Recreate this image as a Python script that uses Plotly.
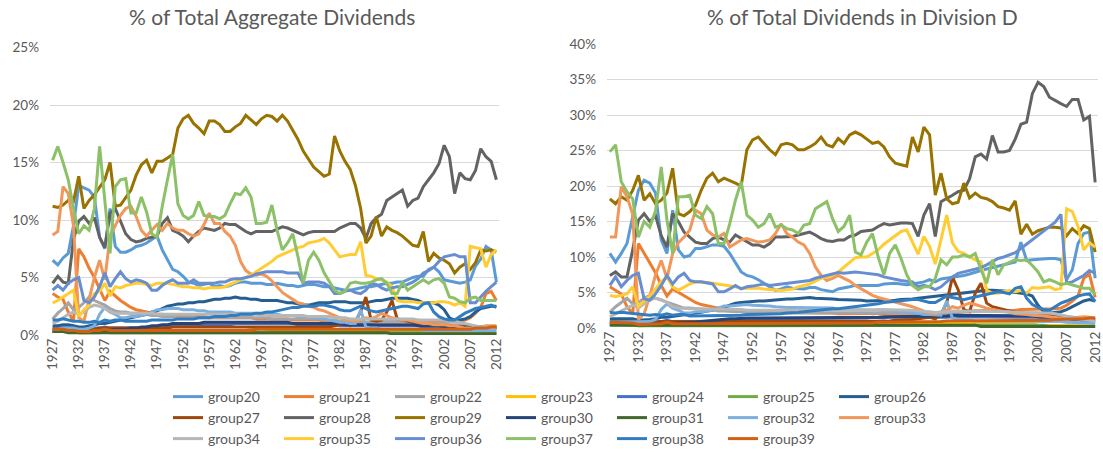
import plotly.graph_objects as go

years = list(range(1927, 2013))
tick_years = [1927, 1932, 1937, 1942, 1947, 1952, 1957, 1962, 1967, 1972,
              1977, 1982, 1987, 1992, 1997, 2002, 2007, 2012]
group_names = ["group20", "group21", "group22", "group23", "group24", "group25", "group26",
               "group27", "group28", "group29", "group30", "group31", "group32", "group33",
               "group34", "group35", "group36", "group37", "group38", "group39"]
colors = ["#5B9BD5", "#ED7D31", "#A5A5A5", "#FFC000", "#4472C4", "#70AD47", "#255E91",
          "#9E480E", "#636363", "#997300", "#264478", "#43682B", "#7CAFDD", "#F1975A",
          "#B7B7B7", "#FFCD33", "#698ED0", "#8CC168", "#327DC2", "#D26012"]

# ---------- % of Total Aggregate Dividends (left panel), 1927..2012 ----------
agg_g20 = [6.5, 6.1, 6.7,
           7.1, 9.5, 13.0, 12.8, 12.6, 12.0, 8.5, 7.5, 11.0, 7.7,
           7.2, 7.2, 7.4, 7.7, 7.8, 8.0, 8.3, 8.6, 7.4, 6.5,
           5.7, 5.5, 5.1, 4.6, 4.5, 4.3, 4.4, 4.5, 4.2, 4.3,
           4.2, 4.3, 4.5, 4.6, 4.6, 4.5, 4.5, 4.5, 4.4, 4.4,
           4.5, 4.4, 4.3, 4.3, 4.2, 4.3, 4.4, 4.4, 4.3, 4.2,
           4.2, 4.1, 4.0, 3.9, 3.9, 4.0, 4.1, 4.2, 4.2, 4.3,
           4.4, 4.5, 4.5, 4.6, 4.6, 4.8, 5.0, 5.1, 5.1, 5.7,
           5.9, 5.5, 4.8, 4.7, 4.6, 4.5, 4.6, 4.8, 6.0, 6.6,
           7.7, 7.4, 4.6]
agg_g21 = [3.6, 3.3, 3.1,
           2.0, 1.2, 7.5, 6.8, 5.8, 5.0, 4.0, 3.0, 3.8, 3.4,
           3.0, 2.7, 2.4, 2.2, 2.1, 2.0, 1.9, 1.8, 1.8, 1.7,
           1.7, 1.7, 1.6, 1.6, 1.6, 1.6, 1.6, 1.5, 1.5, 1.5,
           1.5, 1.5, 1.5, 1.5, 1.5, 1.5, 1.4, 1.4, 1.4, 1.4,
           1.4, 1.4, 1.4, 1.3, 1.3, 1.3, 1.3, 1.3, 1.3, 1.2,
           1.2, 1.2, 1.2, 1.1, 1.1, 1.1, 1.1, 1.1, 1.1, 1.2,
           1.2, 1.2, 1.2, 1.2, 1.2, 1.2, 1.2, 1.2, 1.2, 1.2,
           1.2, 1.2, 1.2, 1.2, 1.2, 1.2, 1.3, 1.5, 1.9, 2.4,
           3.6, 3.8, 3.0]
agg_g22 = [1.4, 1.9, 2.3,
           2.8, 2.2, 2.4, 2.8, 3.3, 3.0, 2.8, 2.6, 2.3, 2.1,
           2.0, 2.0, 1.9, 1.9, 1.8, 1.8, 1.7, 1.7, 1.6, 1.6,
           1.6, 1.5, 1.5, 1.5, 1.5, 1.5, 1.5, 1.5, 1.5, 1.5,
           1.5, 1.5, 1.5, 1.5, 1.5, 1.5, 1.5, 1.5, 1.5, 1.4,
           1.4, 1.4, 1.4, 1.4, 1.4, 1.4, 1.4, 1.4, 1.4, 1.3,
           1.3, 1.3, 1.2, 1.1, 1.0, 1.0, 1.0, 1.1, 1.1, 1.2,
           1.2, 1.2, 1.2, 1.2, 1.2, 1.2, 1.2, 1.1, 1.1, 1.0,
           1.0, 1.0, 1.0, 0.9, 0.9, 0.9, 0.8, 0.7, 0.6, 0.6,
           0.5, 0.5, 0.5]
agg_g23 = [0.3, 0.3, 0.3,
           0.3, 0.3, 0.2, 0.2, 0.3, 0.3, 0.3, 0.4, 0.3, 0.3,
           0.3, 0.3, 0.3, 0.3, 0.3, 0.3, 0.3, 0.3, 0.3, 0.3,
           0.3, 0.3, 0.3, 0.3, 0.3, 0.3, 0.3, 0.3, 0.3, 0.3,
           0.3, 0.3, 0.4, 0.4, 0.4, 0.5, 0.5, 0.6, 0.5, 0.4,
           0.4, 0.4, 0.4, 0.4, 0.4, 0.4, 0.4, 0.4, 0.4, 0.4,
           0.4, 0.4, 0.3, 0.3, 0.3, 0.3, 0.3, 0.3, 0.3, 0.3,
           0.3, 0.3, 0.3, 0.3, 0.3, 0.3, 0.3, 0.3, 0.3, 0.3,
           0.3, 0.3, 0.2, 0.2, 0.2, 0.2, 0.2, 0.2, 0.2, 0.2,
           0.2, 0.2, 0.2]
agg_g24 = [0.6, 0.6, 0.7,
           0.7, 0.6, 0.5, 0.5, 0.5, 0.6, 0.6, 0.7, 0.6, 0.6,
           0.6, 0.6, 0.6, 0.6, 0.6, 0.7, 0.7, 0.7, 0.8, 0.8,
           0.8, 0.8, 0.8, 0.8, 0.9, 0.9, 0.9, 0.9, 0.9, 0.9,
           0.9, 0.9, 1.0, 1.0, 1.0, 1.0, 1.0, 1.0, 1.0, 1.0,
           1.0, 1.0, 1.0, 1.0, 0.9, 0.9, 0.9, 0.9, 0.9, 0.9,
           0.9, 0.9, 0.8, 0.8, 0.8, 0.8, 0.8, 0.8, 0.8, 0.8,
           0.8, 0.8, 0.8, 0.8, 0.8, 0.8, 0.8, 0.8, 0.7, 0.7,
           0.7, 0.7, 0.7, 0.6, 0.6, 0.6, 0.6, 0.6, 0.6, 0.6,
           0.6, 0.6, 0.6]
agg_g25 = [0.3, 0.3, 0.3,
           0.3, 0.3, 0.2, 0.2, 0.2, 0.2, 0.2, 0.3, 0.2, 0.2,
           0.2, 0.2, 0.2, 0.2, 0.2, 0.2, 0.2, 0.2, 0.2, 0.2,
           0.2, 0.2, 0.2, 0.2, 0.2, 0.2, 0.2, 0.2, 0.2, 0.2,
           0.2, 0.2, 0.2, 0.2, 0.2, 0.2, 0.2, 0.2, 0.2, 0.2,
           0.2, 0.2, 0.2, 0.2, 0.2, 0.2, 0.2, 0.2, 0.2, 0.2,
           0.2, 0.2, 0.2, 0.2, 0.2, 0.2, 0.2, 0.2, 0.2, 0.2,
           0.2, 0.2, 0.2, 0.2, 0.2, 0.2, 0.2, 0.2, 0.2, 0.2,
           0.2, 0.2, 0.2, 0.2, 0.1, 0.1, 0.1, 0.1, 0.1, 0.1,
           0.1, 0.1, 0.1]
agg_g26 = [0.8, 0.8, 0.9,
           0.9, 0.8, 0.7, 0.7, 0.8, 0.9, 1.0, 1.0, 1.1, 1.2,
           1.3, 1.4, 1.5, 1.6, 1.7, 1.8, 2.0, 2.1, 2.3, 2.5,
           2.6, 2.7, 2.7, 2.8, 2.8, 2.9, 2.9, 3.0, 3.1, 3.1,
           3.2, 3.2, 3.3, 3.2, 3.2, 3.1, 3.1, 3.0, 3.0, 3.0,
           3.0, 2.9, 2.8, 2.8, 2.7, 2.6, 2.6, 2.7, 2.8, 2.8,
           2.8, 2.9, 2.9, 2.9, 2.8, 2.8, 2.8, 2.8, 2.9, 3.0,
           3.0, 3.1, 3.2, 3.2, 3.2, 3.2, 3.1, 3.0, 2.8, 2.8,
           2.8, 2.6, 2.2, 1.5, 1.3, 1.3, 1.4, 1.6, 2.0, 2.3,
           2.4, 2.5, 2.5]
agg_g27 = [0.5, 0.5, 0.5,
           0.5, 0.5, 0.5, 0.5, 0.5, 0.5, 0.6, 0.6, 0.6, 0.6,
           0.6, 0.6, 0.6, 0.6, 0.6, 0.6, 0.6, 0.6, 0.6, 0.6,
           0.7, 0.7, 0.7, 0.7, 0.7, 0.7, 0.7, 0.7, 0.7, 0.7,
           0.7, 0.7, 0.7, 0.7, 0.7, 0.7, 0.7, 0.7, 0.7, 0.7,
           0.7, 0.7, 0.7, 0.7, 0.7, 0.7, 0.7, 0.7, 0.7, 0.7,
           0.7, 0.8, 0.9, 1.0, 0.8, 1.2, 2.0, 3.3, 1.3, 1.2,
           1.3, 2.0, 3.0, 1.4, 1.3, 1.2, 1.1, 1.0, 1.0, 0.9,
           0.9, 0.8, 0.8, 0.8, 0.7, 0.7, 0.7, 0.7, 0.7, 0.7,
           0.7, 0.7, 0.7]
agg_g28 = [4.5, 5.1, 4.6,
           4.5, 8.3, 9.9, 10.3, 9.7, 10.2, 8.5, 7.6, 10.6, 11.0,
           9.9, 8.8, 8.3, 8.1, 8.2, 8.4, 8.5, 8.6, 9.7, 10.2,
           9.1, 8.9, 8.6, 8.1, 8.6, 9.0, 9.3, 9.2, 9.1, 9.3,
           9.7, 9.6, 9.6, 9.3, 9.0, 8.8, 9.0, 9.0, 9.0, 9.0,
           9.2, 9.4, 9.3, 9.1, 8.9, 8.7, 8.9, 9.0, 9.0, 9.0,
           9.0, 9.0, 9.3, 9.5, 9.7, 9.7, 9.3, 8.4, 9.7, 10.2,
           10.5, 11.7, 12.0, 12.3, 12.6, 11.2, 11.7, 11.9, 12.9, 13.5,
           14.1, 14.9, 16.5, 15.5, 12.3, 14.1, 13.6, 13.5, 14.3, 16.2,
           15.5, 15.1, 13.5]
agg_g29 = [11.2, 11.1, 11.3,
           11.7, 11.6, 13.8, 11.0, 11.7, 12.2, 12.8, 13.5, 15.0, 11.2,
           11.3, 11.9, 12.6, 13.9, 14.8, 15.2, 14.1, 15.1, 15.1, 15.4,
           15.7, 18.0, 18.8, 19.1, 18.4, 18.0, 17.5, 18.6, 18.6, 18.3,
           17.7, 17.7, 18.1, 18.4, 19.1, 18.7, 18.3, 18.8, 19.1, 19.0,
           18.6, 19.1, 18.6, 17.8, 17.0, 16.0, 15.3, 14.6, 14.2, 13.8,
           14.0, 17.3, 16.0, 15.1, 14.4, 13.0, 11.0, 8.0, 8.6, 10.3,
           8.6, 9.4, 9.1, 8.9, 8.6, 8.2, 7.8, 7.7, 9.0, 6.4,
           7.1, 6.7, 6.5, 6.2, 5.4, 5.9, 6.2, 5.7, 6.3, 7.4,
           7.3, 7.4, 7.2]
agg_g30 = [0.3, 0.3, 0.3,
           0.3, 0.3, 0.3, 0.3, 0.3, 0.4, 0.4, 0.4, 0.4, 0.5,
           0.5, 0.5, 0.6, 0.6, 0.7, 0.7, 0.8, 0.8, 0.9, 0.9,
           1.0, 1.0, 1.0, 1.0, 1.0, 1.0, 1.1, 1.1, 1.1, 1.1,
           1.1, 1.1, 1.1, 1.1, 1.1, 1.1, 1.1, 1.1, 1.1, 1.1,
           1.1, 1.1, 1.1, 1.0, 1.0, 1.0, 1.0, 1.0, 1.0, 1.0,
           1.0, 1.0, 1.0, 0.9, 0.9, 0.9, 0.9, 0.9, 0.9, 0.9,
           0.9, 0.9, 0.9, 0.9, 0.9, 0.9, 0.9, 0.8, 0.8, 0.8,
           0.8, 0.8, 0.7, 0.7, 0.7, 0.7, 0.7, 0.7, 0.7, 0.7,
           0.7, 0.7, 0.7]
agg_g31 = [0.3, 0.3, 0.3,
           0.2, 0.2, 0.2, 0.2, 0.2, 0.2, 0.2, 0.2, 0.2, 0.2,
           0.2, 0.2, 0.2, 0.2, 0.2, 0.2, 0.2, 0.2, 0.2, 0.2,
           0.2, 0.2, 0.2, 0.2, 0.2, 0.2, 0.2, 0.2, 0.2, 0.2,
           0.2, 0.2, 0.2, 0.2, 0.2, 0.2, 0.2, 0.2, 0.2, 0.2,
           0.2, 0.2, 0.2, 0.2, 0.2, 0.2, 0.2, 0.2, 0.2, 0.2,
           0.2, 0.2, 0.2, 0.2, 0.2, 0.2, 0.2, 0.2, 0.2, 0.2,
           0.2, 0.2, 0.1, 0.1, 0.1, 0.1, 0.1, 0.1, 0.1, 0.1,
           0.1, 0.1, 0.1, 0.1, 0.1, 0.1, 0.1, 0.1, 0.1, 0.1,
           0.1, 0.1, 0.1]
agg_g32 = [0.5, 0.5, 0.6,
           0.6, 0.6, 0.5, 0.5, 0.6, 0.8, 1.8, 2.4, 2.0, 1.8,
           1.5, 1.5, 1.6, 1.6, 1.7, 1.8, 2.0, 2.2, 2.2, 2.3,
           2.3, 2.3, 2.2, 2.2, 2.2, 2.1, 2.1, 2.0, 2.0, 2.0,
           2.0, 2.0, 1.9, 1.9, 1.9, 1.9, 1.9, 1.8, 1.8, 1.8,
           1.8, 1.7, 1.7, 1.7, 1.6, 1.6, 1.6, 1.5, 1.5, 1.4,
           1.3, 1.2, 1.1, 1.1, 1.0, 1.0, 2.2, 0.7, 0.6, 0.6,
           0.5, 0.5, 0.5, 0.5, 0.5, 0.5, 0.5, 0.5, 0.4, 0.4,
           0.4, 0.4, 0.4, 0.4, 0.4, 0.4, 0.4, 0.4, 0.4, 0.4,
           0.4, 0.4, 0.4]
agg_g33 = [8.7, 9.0, 12.9,
           12.3, 9.5, 1.5, 1.2, 3.0, 5.0, 6.5, 4.8, 8.6, 9.5,
           10.4, 11.0, 11.2, 10.3, 9.1, 8.6, 9.1, 9.6, 9.1, 9.7,
           9.3, 9.1, 9.1, 8.8, 8.6, 8.8, 9.6, 10.6, 9.7, 9.7,
           9.0, 8.6, 7.8, 6.4, 5.6, 5.3, 5.2, 5.3, 5.1, 4.7,
           4.2, 3.7, 3.4, 3.1, 2.8, 2.7, 2.5, 2.4, 2.2, 2.1,
           1.9, 1.7, 1.5, 1.3, 1.3, 1.2, 1.3, 1.5, 1.4, 1.6,
           1.9, 1.7, 1.5, 1.4, 1.3, 1.3, 1.2, 1.1, 1.0, 1.0,
           0.9, 0.9, 0.9, 0.8, 0.8, 0.7, 0.6, 0.6, 0.7, 0.7,
           0.8, 0.8, 0.8]
agg_g34 = [1.0, 1.2, 1.5,
           1.8, 2.0, 1.8, 2.0, 2.4, 2.6, 2.5, 2.3, 2.0, 1.9,
           1.9, 1.9, 1.9, 1.9, 1.9, 1.9, 1.9, 1.8, 1.8, 1.8,
           1.8, 1.8, 1.8, 1.8, 1.8, 1.8, 1.8, 1.8, 1.8, 1.8,
           1.8, 1.8, 1.8, 1.8, 1.8, 1.8, 1.8, 1.7, 1.7, 1.7,
           1.7, 1.7, 1.7, 1.7, 1.7, 1.7, 1.6, 1.6, 1.6, 1.6,
           1.6, 1.5, 1.5, 1.5, 1.4, 1.4, 1.4, 1.4, 1.4, 1.4,
           1.4, 1.4, 1.4, 1.4, 1.4, 1.4, 1.4, 1.3, 1.3, 1.3,
           1.3, 1.3, 1.3, 1.2, 1.2, 1.1, 1.0, 0.9, 0.8, 0.7,
           0.7, 0.6, 0.6]
agg_g35 = [2.8, 3.0, 3.3,
           3.6, 3.9, 1.6, 2.2, 2.6, 3.6, 3.8, 4.5, 3.4, 4.2,
           4.1, 4.3, 4.4, 4.5, 4.5, 4.4, 4.3, 4.5, 4.5, 4.5,
           4.4, 4.3, 4.2, 4.2, 4.1, 4.1, 4.0, 4.1, 4.1, 4.1,
           4.2, 4.4, 4.6, 4.8, 5.0, 5.2, 5.5, 5.8, 6.1, 6.4,
           6.8, 7.0, 7.2, 7.4, 7.6, 7.7, 8.0, 8.1, 8.2, 8.4,
           8.0, 7.4, 6.8, 6.9, 7.0, 7.0, 8.1, 5.2, 5.1, 4.9,
           4.8, 4.6, 4.2, 3.0, 2.9, 2.9, 2.9, 2.8, 2.8, 2.8,
           2.8, 2.9, 2.9, 2.8, 2.6, 2.8, 2.5, 7.7, 7.6, 7.5,
           5.9, 7.0, 7.4]
agg_g36 = [3.9, 4.3, 3.9,
           4.5, 4.8, 5.0, 3.0, 2.8, 3.3, 4.2, 5.4, 4.2, 4.9,
           5.5, 4.9, 4.6, 4.8, 4.7, 4.5, 3.9, 3.9, 4.3, 4.6,
           4.8, 4.5, 4.5, 4.5, 4.8, 4.5, 4.5, 4.5, 4.5, 4.6,
           4.6, 4.8, 4.9, 4.9, 5.0, 5.1, 5.3, 5.4, 5.5, 5.5,
           5.5, 5.5, 5.4, 5.4, 5.4, 4.5, 4.6, 4.6, 4.6, 4.5,
           4.2, 3.6, 3.6, 3.8, 3.9, 3.7, 3.6, 3.9, 4.5, 4.4,
           4.1, 3.9, 4.1, 4.2, 4.2, 4.4, 4.6, 4.9, 5.4, 5.6,
           5.9, 6.4, 6.8, 6.9, 7.0, 6.8, 6.8, 2.8, 2.8, 3.3,
           3.8, 4.2, 4.6]
agg_g37 = [15.2, 16.4, 15.0,
           13.5, 11.0, 8.8, 9.5, 9.1, 11.0, 16.4, 11.7, 7.1, 12.9,
           13.5, 13.6, 10.6, 10.6, 12.0, 10.7, 8.8, 8.5, 11.2, 13.5,
           15.7, 11.4, 10.4, 10.1, 10.4, 11.6, 10.4, 10.3, 10.3, 10.1,
           10.4, 11.4, 12.3, 12.2, 12.8, 12.0, 9.7, 9.7, 9.8, 11.3,
           9.1, 7.4, 8.0, 8.8, 6.8, 4.5, 6.5, 7.2, 6.5, 5.4,
           4.6, 3.9, 3.6, 3.8, 4.5, 4.6, 4.5, 4.5, 4.6, 4.8,
           4.9, 4.5, 3.6, 3.6, 4.6, 3.9, 4.2, 4.5, 4.8, 4.5,
           4.8, 4.9, 4.5, 3.3, 3.2, 2.9, 2.8, 3.2, 3.3, 3.0,
           3.0, 3.0, 3.0]
agg_g38 = [1.3, 1.3, 1.4,
           1.3, 1.2, 1.2, 1.1, 1.1, 1.2, 1.1, 1.3, 1.2, 1.3,
           1.3, 1.2, 1.2, 1.2, 1.2, 1.2, 1.3, 1.3, 1.3, 1.3,
           1.3, 1.4, 1.4, 1.4, 1.4, 1.5, 1.5, 1.5, 1.6, 1.6,
           1.6, 1.7, 1.7, 1.8, 1.8, 1.8, 1.9, 1.9, 2.0, 2.0,
           2.1, 2.2, 2.3, 2.4, 2.4, 2.5, 2.5, 2.5, 2.6, 2.6,
           2.5, 2.4, 2.2, 2.1, 2.1, 2.3, 2.5, 2.3, 2.1, 2.0,
           2.1, 2.2, 2.3, 2.4, 2.5, 2.5, 2.4, 2.3, 2.7, 2.8,
           2.0, 1.6, 1.4, 1.3, 1.3, 1.6, 1.9, 2.1, 2.3, 2.4,
           2.5, 2.6, 2.4]
agg_g39 = [0.5, 0.5, 0.5,
           0.4, 0.4, 0.3, 0.3, 0.3, 0.4, 0.4, 0.5, 0.4, 0.4,
           0.4, 0.4, 0.4, 0.4, 0.4, 0.4, 0.4, 0.4, 0.4, 0.4,
           0.4, 0.4, 0.4, 0.4, 0.4, 0.4, 0.4, 0.4, 0.4, 0.4,
           0.4, 0.4, 0.4, 0.4, 0.4, 0.4, 0.5, 0.5, 0.5, 0.5,
           0.5, 0.5, 0.5, 0.5, 0.5, 0.5, 0.5, 0.5, 0.5, 0.5,
           0.5, 0.5, 0.5, 0.5, 0.5, 0.5, 0.5, 0.5, 0.5, 0.5,
           0.5, 0.5, 0.5, 0.5, 0.5, 0.5, 0.5, 0.5, 0.5, 0.5,
           0.5, 0.5, 0.5, 0.5, 0.5, 0.5, 0.5, 0.5, 0.6, 0.6,
           0.6, 0.7, 0.7]

# ---------- % of Total Dividends in Division D (right panel), 1927..2012 ----------
div_g20 = [10.5, 9.3, 10.5,
           11.9, 15.7, 19.4, 20.8, 20.4, 19.0, 12.4, 10.5, 16.6, 11.0,
           10.0, 10.2, 11.2, 11.2, 11.4, 11.7, 11.7, 11.5, 10.5, 9.1,
           7.9, 7.4, 7.2, 6.8, 6.3, 5.8, 5.3, 5.5, 5.8, 5.6,
           5.5, 5.5, 5.7, 5.7, 5.4, 5.3, 5.1, 5.5, 5.6, 5.8,
           6.0, 6.0, 6.1, 6.1, 6.0, 6.2, 6.3, 6.3, 6.2, 6.1,
           6.2, 6.3, 6.5, 6.8, 6.5, 6.9, 7.0, 7.1, 7.2, 7.4,
           7.6, 7.9, 8.1, 8.3, 8.5, 8.8, 9.0, 9.1, 9.3, 12.1,
           9.5, 9.6, 9.7, 9.7, 9.8, 9.8, 9.6, 6.8, 8.2, 11.9,
           13.3, 13.5, 7.0]
div_g21 = [5.8, 5.3, 4.8,
           3.0, 2.0, 11.9, 10.5, 9.0, 7.8, 6.0, 4.5, 5.5, 5.0,
           4.5, 4.0, 3.6, 3.3, 3.1, 2.9, 2.8, 2.7, 2.6, 2.5,
           2.5, 2.4, 2.4, 2.3, 2.3, 2.3, 2.2, 2.2, 2.2, 2.2,
           2.1, 2.1, 2.1, 2.1, 2.1, 2.1, 2.1, 2.0, 2.0, 2.0,
           2.0, 2.0, 2.0, 2.0, 2.0, 2.0, 2.0, 2.0, 2.0, 2.0,
           2.0, 2.0, 2.0, 2.0, 2.0, 2.0, 2.1, 2.2, 2.3, 2.4,
           2.4, 2.4, 2.4, 2.4, 2.4, 2.4, 2.4, 2.5, 2.5, 2.6,
           2.6, 2.6, 2.6, 2.6, 2.7, 2.7, 2.8, 3.2, 3.8, 4.5,
           7.0, 7.6, 4.3]
div_g22 = [2.2, 3.0, 3.6,
           4.2, 3.4, 3.6, 4.2, 4.6, 4.2, 3.9, 3.6, 3.3, 3.0,
           2.8, 2.8, 2.7, 2.7, 2.6, 2.6, 2.4, 2.4, 2.3, 2.3,
           2.3, 2.2, 2.2, 2.1, 2.1, 2.1, 2.1, 2.1, 2.1, 2.1,
           2.1, 2.1, 2.1, 2.1, 2.1, 2.1, 2.1, 2.1, 2.1, 2.0,
           2.0, 2.0, 2.0, 2.1, 2.1, 2.2, 2.2, 2.2, 2.2, 2.1,
           2.1, 2.0, 2.0, 1.9, 1.8, 1.8, 1.9, 2.1, 2.2, 2.3,
           2.4, 2.4, 2.4, 2.4, 2.4, 2.4, 2.4, 2.3, 2.2, 2.1,
           2.1, 2.1, 2.1, 2.0, 2.0, 2.0, 1.8, 1.6, 1.3, 1.2,
           1.0, 0.9, 0.8]
div_g23 = [0.5, 0.5, 0.5,
           0.5, 0.5, 0.3, 0.3, 0.5, 0.5, 0.5, 0.6, 0.5, 0.5,
           0.4, 0.4, 0.4, 0.4, 0.4, 0.4, 0.4, 0.4, 0.4, 0.4,
           0.4, 0.4, 0.4, 0.4, 0.4, 0.4, 0.4, 0.4, 0.4, 0.4,
           0.4, 0.4, 0.6, 0.6, 0.6, 0.7, 0.7, 0.9, 0.7, 0.6,
           0.6, 0.6, 0.6, 0.6, 0.6, 0.6, 0.6, 0.6, 0.6, 0.6,
           0.6, 0.6, 0.5, 0.5, 0.5, 0.5, 0.6, 0.6, 0.6, 0.6,
           0.6, 0.6, 0.6, 0.6, 0.6, 0.6, 0.6, 0.6, 0.6, 0.6,
           0.6, 0.6, 0.4, 0.4, 0.4, 0.4, 0.4, 0.4, 0.4, 0.4,
           0.4, 0.4, 0.3]
div_g24 = [1.0, 1.0, 1.1,
           1.1, 1.0, 0.8, 0.8, 0.8, 0.9, 0.9, 1.1, 0.9, 0.9,
           0.8, 0.8, 0.8, 0.8, 0.8, 1.0, 1.0, 1.0, 1.1, 1.1,
           1.1, 1.1, 1.1, 1.1, 1.3, 1.3, 1.3, 1.3, 1.3, 1.3,
           1.3, 1.3, 1.4, 1.4, 1.4, 1.4, 1.4, 1.4, 1.4, 1.4,
           1.4, 1.4, 1.4, 1.5, 1.4, 1.4, 1.5, 1.5, 1.5, 1.5,
           1.5, 1.5, 1.4, 1.4, 1.4, 1.5, 1.5, 1.6, 1.6, 1.6,
           1.6, 1.6, 1.6, 1.6, 1.6, 1.6, 1.6, 1.6, 1.5, 1.5,
           1.5, 1.5, 1.5, 1.4, 1.4, 1.4, 1.4, 1.3, 1.2, 1.2,
           1.1, 1.0, 0.9]
div_g25 = [0.5, 0.5, 0.5,
           0.4, 0.4, 0.3, 0.3, 0.3, 0.3, 0.3, 0.4, 0.3, 0.3,
           0.3, 0.3, 0.3, 0.3, 0.3, 0.3, 0.3, 0.3, 0.3, 0.3,
           0.3, 0.3, 0.3, 0.3, 0.3, 0.3, 0.3, 0.3, 0.3, 0.3,
           0.3, 0.3, 0.3, 0.3, 0.3, 0.3, 0.3, 0.3, 0.3, 0.3,
           0.3, 0.3, 0.3, 0.3, 0.3, 0.3, 0.3, 0.3, 0.3, 0.3,
           0.3, 0.3, 0.3, 0.3, 0.3, 0.3, 0.4, 0.4, 0.4, 0.4,
           0.4, 0.4, 0.4, 0.4, 0.4, 0.4, 0.4, 0.4, 0.4, 0.4,
           0.4, 0.4, 0.4, 0.4, 0.2, 0.2, 0.2, 0.2, 0.2, 0.2,
           0.2, 0.2, 0.2]
div_g26 = [1.3, 1.3, 1.4,
           1.4, 1.3, 1.1, 1.1, 1.2, 1.3, 1.5, 1.5, 1.6, 1.7,
           1.8, 2.0, 2.1, 2.2, 2.4, 2.5, 2.8, 2.9, 3.2, 3.5,
           3.6, 3.7, 3.7, 3.8, 3.8, 3.9, 3.9, 4.0, 4.1, 4.1,
           4.2, 4.2, 4.3, 4.2, 4.2, 4.1, 4.1, 4.0, 4.0, 4.0,
           4.0, 3.9, 3.8, 3.8, 3.8, 3.8, 3.8, 3.9, 4.0, 4.0,
           4.1, 4.2, 4.3, 4.4, 4.5, 4.6, 4.6, 4.7, 4.8, 5.0,
           5.0, 5.1, 5.2, 5.3, 5.3, 5.3, 5.2, 5.1, 5.0, 5.0,
           4.8, 4.5, 3.2, 2.3, 2.1, 2.2, 2.3, 2.6, 3.0, 3.5,
           3.8, 4.0, 3.8]
div_g27 = [0.8, 0.8, 0.8,
           0.8, 0.7, 0.7, 0.7, 0.8, 0.8, 0.9, 0.9, 0.9, 0.9,
           1.0, 1.0, 1.0, 1.0, 1.0, 1.0, 1.0, 1.0, 1.0, 1.0,
           1.0, 1.0, 1.0, 1.0, 1.0, 1.0, 1.0, 1.0, 1.0, 1.0,
           1.0, 1.0, 1.0, 1.0, 1.0, 1.0, 1.0, 1.0, 1.0, 1.0,
           1.0, 1.0, 1.0, 1.0, 1.0, 1.0, 1.0, 1.1, 1.1, 1.1,
           1.2, 1.3, 1.4, 1.5, 1.3, 2.0, 3.5, 7.2, 5.4, 2.6,
           2.3, 4.9, 6.3, 3.5, 3.0, 2.8, 2.5, 2.3, 2.2, 2.1,
           2.0, 1.9, 1.8, 1.7, 1.6, 1.5, 1.5, 1.4, 1.3, 1.3,
           1.3, 1.2, 1.2]
div_g28 = [7.4, 7.9, 7.2,
           7.2, 11.0, 15.2, 16.1, 15.0, 15.8, 13.0, 11.4, 16.1, 15.0,
           13.5, 12.8, 12.1, 11.9, 11.9, 12.6, 12.8, 12.4, 12.1, 13.1,
           12.6, 12.2, 11.7, 11.7, 11.4, 11.9, 12.8, 12.8, 12.8, 12.9,
           13.1, 13.3, 13.5, 13.1, 12.6, 12.3, 12.2, 12.4, 12.4, 12.9,
           13.1, 13.6, 13.7, 13.8, 14.3, 14.7, 14.5, 14.7, 14.8, 14.8,
           14.7, 12.9, 15.9, 17.5, 12.9, 17.8, 18.2, 18.7, 19.2, 19.4,
           21.0, 24.1, 24.5, 23.8, 27.1, 24.8, 24.8, 25.0, 26.6, 28.7,
           29.0, 33.0, 34.6, 34.0, 32.5, 32.0, 31.6, 31.2, 32.2, 32.2,
           29.3, 29.8, 20.5]
div_g29 = [18.2, 17.5, 18.5,
           18.0, 19.4, 21.5, 18.0, 18.9, 17.5, 18.0, 19.0, 22.5, 16.1,
           15.8, 16.4, 17.3, 19.4, 21.1, 21.8, 20.6, 21.1, 20.8, 20.4,
           20.0, 25.1, 26.5, 26.9, 26.0, 25.1, 24.4, 25.8, 26.0, 25.8,
           25.1, 25.1, 25.5, 26.0, 26.9, 25.8, 25.5, 26.7, 26.0, 27.2,
           27.6, 27.2, 26.6, 26.0, 26.2, 25.5, 24.1, 23.2, 23.0, 22.8,
           26.9, 24.8, 28.3, 27.2, 18.7, 21.8, 18.2, 17.5, 17.7, 20.4,
           18.3, 19.0, 18.4, 18.2, 17.8, 17.1, 16.9, 16.6, 17.9, 13.2,
           14.6, 13.2, 13.7, 14.0, 14.2, 14.2, 14.1, 13.0, 14.0, 13.3,
           14.4, 14.0, 10.7]
div_g30 = [0.5, 0.5, 0.5,
           0.5, 0.5, 0.5, 0.5, 0.5, 0.6, 0.6, 0.6, 0.6, 0.7,
           0.7, 0.7, 0.8, 0.9, 1.0, 1.0, 1.1, 1.2, 1.3, 1.3,
           1.4, 1.4, 1.4, 1.4, 1.4, 1.4, 1.5, 1.5, 1.5, 1.5,
           1.5, 1.5, 1.5, 1.5, 1.5, 1.5, 1.5, 1.5, 1.5, 1.5,
           1.5, 1.5, 1.5, 1.5, 1.5, 1.6, 1.6, 1.6, 1.6, 1.6,
           1.6, 1.6, 1.6, 1.6, 1.6, 1.7, 1.7, 1.8, 1.8, 1.8,
           1.8, 1.8, 1.8, 1.8, 1.8, 1.8, 1.8, 1.7, 1.7, 1.7,
           1.7, 1.7, 1.6, 1.6, 1.6, 1.6, 1.6, 1.6, 1.5, 1.4,
           1.4, 1.3, 1.2]
div_g31 = [0.4, 0.4, 0.4,
           0.3, 0.3, 0.3, 0.3, 0.3, 0.3, 0.3, 0.3, 0.3, 0.3,
           0.3, 0.3, 0.3, 0.3, 0.3, 0.3, 0.3, 0.3, 0.3, 0.3,
           0.3, 0.3, 0.3, 0.3, 0.3, 0.3, 0.3, 0.3, 0.3, 0.3,
           0.3, 0.3, 0.3, 0.3, 0.3, 0.3, 0.3, 0.3, 0.3, 0.3,
           0.3, 0.3, 0.3, 0.3, 0.3, 0.3, 0.3, 0.3, 0.3, 0.3,
           0.3, 0.3, 0.3, 0.3, 0.3, 0.3, 0.4, 0.4, 0.4, 0.4,
           0.4, 0.4, 0.2, 0.2, 0.2, 0.2, 0.2, 0.2, 0.2, 0.2,
           0.2, 0.2, 0.2, 0.2, 0.2, 0.2, 0.2, 0.2, 0.2, 0.2,
           0.2, 0.2, 0.2]
div_g32 = [0.8, 0.8, 0.9,
           0.9, 0.9, 0.8, 0.8, 0.9, 1.2, 2.6, 3.4, 2.8, 2.5,
           2.1, 2.1, 2.3, 2.3, 2.4, 2.5, 2.8, 3.1, 3.1, 3.2,
           3.3, 3.3, 3.2, 3.2, 3.2, 3.1, 3.0, 2.9, 2.9, 2.9,
           2.9, 2.9, 2.8, 2.8, 2.8, 2.8, 2.8, 2.6, 2.6, 2.6,
           2.6, 2.5, 2.5, 2.6, 2.6, 2.6, 2.5, 2.4, 2.4, 2.3,
           2.2, 2.0, 1.9, 1.9, 1.8, 1.8, 3.8, 1.4, 1.2, 1.2,
           1.1, 1.0, 1.0, 1.0, 1.0, 1.0, 1.0, 1.0, 0.9, 0.9,
           0.9, 0.9, 0.9, 0.9, 0.9, 0.9, 0.9, 0.8, 0.8, 0.8,
           0.7, 0.7, 0.6]
div_g33 = [12.8, 12.8, 19.9,
           18.5, 16.0, 1.2, 2.0, 4.5, 7.5, 9.5, 7.0, 10.5, 12.0,
           12.8, 13.8, 16.6, 16.1, 13.8, 13.1, 12.8, 13.3, 11.4, 11.9,
           12.4, 12.6, 12.4, 12.1, 12.2, 12.4, 13.3, 14.7, 13.3, 12.8,
           12.1, 11.7, 10.5, 8.6, 7.4, 6.7, 7.0, 7.4, 7.0, 6.6,
           6.0, 5.5, 5.0, 4.6, 4.3, 4.1, 3.8, 3.6, 3.4, 3.2,
           3.0, 2.7, 2.4, 2.1, 2.0, 2.2, 2.5, 3.0, 2.8, 3.2,
           3.5, 3.3, 3.0, 2.8, 2.6, 2.5, 2.3, 2.2, 2.0, 2.0,
           1.9, 1.8, 1.8, 1.7, 1.6, 1.5, 1.4, 1.3, 1.4, 1.5,
           1.6, 1.5, 1.4]
div_g34 = [1.6, 2.0, 2.4,
           2.8, 3.2, 2.8, 3.4, 4.0, 4.2, 4.0, 3.6, 3.0, 2.8,
           2.7, 2.7, 2.7, 2.7, 2.7, 2.7, 2.7, 2.6, 2.6, 2.6,
           2.6, 2.5, 2.5, 2.5, 2.5, 2.5, 2.5, 2.5, 2.5, 2.5,
           2.5, 2.5, 2.5, 2.5, 2.5, 2.5, 2.5, 2.4, 2.4, 2.4,
           2.4, 2.4, 2.4, 2.5, 2.6, 2.6, 2.5, 2.5, 2.5, 2.5,
           2.5, 2.4, 2.4, 2.3, 2.2, 2.2, 2.3, 2.4, 2.4, 2.4,
           2.4, 2.4, 2.4, 2.4, 2.4, 2.4, 2.3, 2.3, 2.2, 2.2,
           2.2, 2.2, 2.2, 2.1, 2.1, 2.0, 1.8, 1.6, 1.4, 1.3,
           1.2, 1.1, 1.0]
div_g35 = [4.6, 4.4, 4.6,
           4.8, 5.8, 3.0, 3.8, 4.5, 5.5, 6.5, 7.2, 5.8, 5.3,
           5.8, 6.2, 6.5, 6.5, 6.4, 6.3, 6.2, 6.1, 6.0, 5.8,
           5.6, 5.6, 5.7, 5.6, 5.5, 5.4, 5.3, 5.3, 5.4, 5.5,
           5.8, 6.0, 6.2, 6.6, 7.0, 7.2, 7.4, 7.9, 8.6, 9.2,
           9.9, 10.0, 10.0, 10.5, 11.0, 11.8, 12.4, 13.0, 13.6, 13.8,
           12.0, 10.4, 12.9, 11.5, 9.0, 12.5, 15.9, 12.0, 10.8, 10.5,
           10.0, 9.6, 9.3, 5.3, 4.9, 4.9, 5.1, 5.3, 5.1, 5.3,
           4.9, 5.7, 5.6, 5.7, 5.8, 5.4, 5.6, 16.8, 16.4, 14.3,
           11.0, 12.0, 11.4]
div_g36 = [6.0, 7.2, 5.8,
           6.7, 7.4, 7.7, 4.1, 3.9, 4.8, 6.0, 7.4, 6.2, 7.2,
           7.7, 6.7, 6.5, 6.5, 6.3, 6.2, 5.1, 5.1, 5.5, 6.0,
           5.5, 5.8, 5.9, 6.0, 6.2, 6.0, 6.1, 6.2, 6.2, 6.3,
           6.5, 6.6, 6.7, 7.0, 7.2, 7.4, 7.7, 7.8, 7.7, 7.8,
           7.9, 7.8, 7.7, 7.7, 7.5, 7.2, 7.0, 6.8, 6.7, 6.6,
           6.5, 5.8, 6.0, 5.8, 5.4, 5.8, 6.5, 7.2, 7.7, 7.9,
           8.1, 8.3, 8.5, 8.9, 9.4, 9.8, 10.0, 10.3, 10.6, 11.2,
           11.8, 12.4, 13.0, 13.6, 14.2, 14.9, 16.0, 6.3, 6.5, 7.0,
           7.4, 8.1, 7.7]
div_g37 = [24.8, 25.8, 20.6,
           19.2, 18.2, 12.8, 15.0, 14.2, 16.5, 22.7, 15.2, 10.5, 18.5,
           18.5, 18.7, 15.9, 15.4, 17.1, 16.1, 11.9, 11.9, 14.7, 18.0,
           20.6, 15.9, 15.2, 14.2, 14.7, 16.1, 14.2, 14.5, 14.0, 13.8,
           13.3, 14.5, 14.7, 16.8, 17.3, 17.8, 15.4, 13.6, 14.3, 15.9,
           10.7, 10.3, 12.1, 13.3, 10.0, 7.5, 10.5, 11.7, 9.8, 7.5,
           6.0, 5.4, 5.8, 5.8, 7.0, 9.6, 8.9, 10.0, 10.0, 10.3,
           10.0, 10.5, 8.2, 6.3, 9.6, 7.5, 8.9, 9.3, 9.6, 9.5,
           9.6, 8.8, 7.9, 6.5, 6.8, 6.5, 6.1, 6.3, 6.1, 5.8,
           5.6, 5.6, 4.7]
div_g38 = [2.2, 2.1, 2.2,
           2.1, 2.0, 1.9, 1.8, 1.8, 1.9, 1.8, 2.0, 1.8, 1.9,
           1.9, 1.7, 1.7, 1.7, 1.7, 1.7, 1.8, 1.8, 1.8, 1.8,
           1.8, 1.9, 1.9, 1.9, 1.9, 2.0, 2.0, 2.0, 2.1, 2.1,
           2.2, 2.3, 2.4, 2.5, 2.6, 2.6, 2.7, 2.7, 2.8, 2.8,
           2.9, 3.0, 3.2, 3.3, 3.4, 3.6, 3.7, 3.8, 3.9, 4.0,
           4.0, 4.0, 3.8, 3.6, 3.6, 4.0, 4.5, 4.3, 4.2, 4.0,
           4.2, 4.4, 4.6, 4.8, 5.0, 5.1, 5.0, 4.8, 5.6, 5.8,
           4.2, 3.3, 2.9, 2.6, 2.5, 3.0, 3.5, 3.8, 4.2, 4.5,
           4.7, 4.8, 3.7]
div_g39 = [0.8, 0.8, 0.8,
           0.7, 0.7, 0.5, 0.5, 0.5, 0.6, 0.6, 0.8, 0.6, 0.6,
           0.6, 0.6, 0.6, 0.6, 0.6, 0.6, 0.6, 0.6, 0.6, 0.6,
           0.6, 0.6, 0.6, 0.6, 0.6, 0.6, 0.6, 0.6, 0.6, 0.6,
           0.6, 0.6, 0.6, 0.6, 0.6, 0.6, 0.7, 0.7, 0.7, 0.7,
           0.7, 0.7, 0.7, 0.7, 0.8, 0.8, 0.8, 0.8, 0.8, 0.8,
           0.9, 0.9, 0.9, 0.9, 0.9, 0.9, 1.0, 1.0, 1.0, 1.0,
           1.0, 1.0, 1.0, 1.0, 1.0, 1.0, 1.0, 1.0, 1.0, 1.0,
           1.1, 1.1, 1.1, 1.1, 1.1, 1.2, 1.2, 1.2, 1.3, 1.3,
           1.3, 1.4, 1.4]

agg_series = [agg_g20, agg_g21, agg_g22, agg_g23, agg_g24, agg_g25, agg_g26, agg_g27,
              agg_g28, agg_g29, agg_g30, agg_g31, agg_g32, agg_g33, agg_g34, agg_g35,
              agg_g36, agg_g37, agg_g38, agg_g39]
div_series = [div_g20, div_g21, div_g22, div_g23, div_g24, div_g25, div_g26, div_g27,
              div_g28, div_g29, div_g30, div_g31, div_g32, div_g33, div_g34, div_g35,
              div_g36, div_g37, div_g38, div_g39]
for s in agg_series + div_series:
    assert len(s) == len(years), len(s)

W, H = 1103, 454
TXT = "#595959"
FONT = "Lato"

fig = go.Figure()
legend_ids = ["legend"] * 7 + ["legend2"] * 7 + ["legend3"] * 6
for i, name in enumerate(group_names):
    fig.add_trace(go.Scatter(
        x=years, y=agg_series[i], name=name, mode="lines",
        line=dict(color=colors[i], width=3), legendgroup=name,
        legend=legend_ids[i], xaxis="x", yaxis="y", showlegend=True))
for i, name in enumerate(group_names):
    fig.add_trace(go.Scatter(
        x=years, y=div_series[i], name=name, mode="lines",
        line=dict(color=colors[i], width=3), legendgroup=name,
        xaxis="x2", yaxis="y2", showlegend=False))

xcommon = dict(range=[1926.5, 2012.5], tickmode="array", tickvals=tick_years,
               tickangle=-90, showgrid=False, zeroline=False, showline=False,
               ticks="", automargin=False, ticklabeloverflow="allow",
               tickfont=dict(family=FONT, size=13.5, color=TXT))
ycommon = dict(tickmode="linear", dtick=5, ticksuffix="%", showgrid=True,
               gridcolor="#D9D9D9", gridwidth=1, zeroline=False, showline=False,
               ticks="", ticklabelstandoff=10, automargin=False,
               tickfont=dict(family=FONT, size=13.5, color=TXT))

legend_common = dict(orientation="h", xref="paper", yref="paper",
                     x=168 / W, xanchor="left", yanchor="middle",
                     entrywidth=66, entrywidthmode="pixels",
                     font=dict(family=FONT, size=14, color=TXT),
                     bgcolor="rgba(0,0,0,0)", itemclick=False)

fig.update_layout(
    width=W, height=H,
    margin=dict(l=0, r=0, t=0, b=0, autoexpand=False),
    paper_bgcolor="white", plot_bgcolor="white",
    font=dict(family=FONT, color=TXT),
    xaxis=dict(domain=[50 / W, 499 / W], anchor="y", **xcommon),
    yaxis=dict(domain=[(H - 335) / H, (H - 47.5) / H], range=[0, 25], anchor="x", **ycommon),
    xaxis2=dict(domain=[607 / W, 1098 / W], anchor="y2", **xcommon),
    yaxis2=dict(domain=[(H - 328) / H, (H - 44) / H], range=[0, 40], anchor="x2", **ycommon),
    legend=dict(y=1 - 397 / H, **legend_common),
    legend2=dict(y=1 - 418 / H, **legend_common),
    legend3=dict(y=1 - 439 / H, **legend_common),
    showlegend=True,
    annotations=[
        dict(text="% of Total Aggregate Dividends", xref="paper", yref="paper",
             x=272 / W, y=1 - 16 / H, xanchor="center", yanchor="middle",
             showarrow=False, font=dict(family=FONT, size=21, color=TXT)),
        dict(text="% of Total Dividends in Division D", xref="paper", yref="paper",
             x=862 / W, y=1 - 16 / H, xanchor="center", yanchor="middle",
             showarrow=False, font=dict(family=FONT, size=21, color=TXT)),
    ],
)

fig.write_html("out.html", config={"displayModeBar": False},
               post_script="document.body.style.margin='0px';document.body.style.overflow='hidden';")
